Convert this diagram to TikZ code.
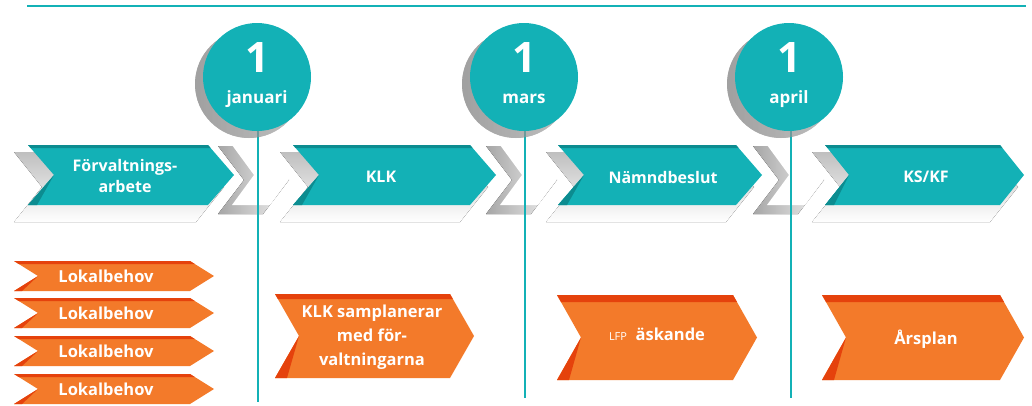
\documentclass[tikz,border=0pt]{standalone}
\usepackage{fontspec}
\setmainfont{Open Sans}
\definecolor{tealmain}{HTML}{13B1B6}
\definecolor{tealdark}{HTML}{0C8C90}
\definecolor{orngmain}{HTML}{F37A2A}
\definecolor{orngdark}{HTML}{E5420C}

% chevron: left, right, top, bottom, depth, fill, trim colour, band, wedge
\newcommand\chev[9]{%
  \pgfmathsetmacro\chmid{(#3+#4)/2}%
  \pgfmathsetmacro\chb{#5*#8/((#4-#3)/2)}%
  \fill[#6] (#1,#3) -- (#2,#3) -- ({#2+#5},\chmid) -- (#2,#4) -- (#1,#4) -- ({#1+#5},\chmid) -- cycle;
  \fill[#7] (#1,#3) -- (#2,#3) -- ({#2+\chb},{#3+#8}) -- ({#1+\chb},{#3+#8}) -- cycle;
  \fill[#7] ({#1+#5},\chmid) -- (#1,#4) -- ({#1+#9},#4) -- cycle;}

\tikzset{
  topline/.style={draw=tealmain,line width=2pt},
  vline/.style={draw=tealmain,line width=1.5pt},
  datecirc/.style={circle,fill=tealmain,minimum size=108pt,inner sep=0pt},
  daynum/.style={text=white,font=\bfseries\fontsize{42}{42}\selectfont},
  monthtext/.style={text=white,font=\bfseries\fontsize{17}{20}\selectfont},
  chevtext/.style={text=white,align=center,font=\bfseries\fontsize{16}{21}\selectfont},
  orngtext/.style={text=white,align=center,font=\bfseries\fontsize{16.5}{24}\selectfont},
}

\begin{document}
\begin{tikzpicture}[x=1pt,y=-1pt]
\useasboundingbox (0,0) rectangle (1032,405);

% top line
\coordinate (top-l) at (27,6);
\coordinate (top-r) at (1026,6);
\draw[topline] (top-l) -- (top-r);

% shadows of the band
\foreach \l/\r in {14/196,280/460,546/726,812/990}{
  \chev{\l}{\r}{152}{222}{28}{top color=gray!50,bottom color=white}{opacity=0}{1}{1}
}
% white links with their shadow
\foreach \l in {218,486,753}{
  \chev{\l}{\l+45}{146}{214}{26}{left color=gray!70,right color=gray!10}{opacity=0}{1}{1}
  \chev{\l+14}{\l+52}{145}{205}{22}{white}{opacity=0}{1}{1}
}
% teal band
\chev{28}{208}{145}{205}{26}{tealmain}{tealdark}{3}{9}
\chev{293}{470}{145}{205}{26}{tealmain}{tealdark}{3}{9}
\chev{558}{736}{145}{205}{26}{tealmain}{tealdark}{3}{9}
\chev{825}{1000}{145}{205}{24}{tealmain}{tealdark}{3}{9}

\node[chevtext] (forv) at (125,176) {Förvaltnings-\\arbete};
\node[chevtext] (klk) at (381,177) {KLK};
\node[chevtext] (namnd) at (663,177) {Nämndbeslut};
\node[chevtext] (ksf) at (926,177) {KS/KF};

% dates
\coordinate (jan-end) at (258,402);
\coordinate (mar-end) at (525,398);
\coordinate (apr-end) at (791,398);
\draw[vline] (258,120) -- (jan-end);
\draw[vline] (525,120) -- (mar-end);
\draw[vline] (791,120) -- (apr-end);

\foreach \x in {257,524,789}{
  \fill[left color=gray!55,right color=white,opacity=.45] (\x-8,84) circle (54pt);
}
\node[datecirc] (jan) at (257,77) {};
\node[datecirc] (mar) at (524,77) {};
\node[datecirc] (apr) at (789,77) {};
\node[daynum] (jan-d) at (257,58) {1};
\node[daynum] (mar-d) at (524,58) {1};
\node[daynum] (apr-d) at (789,58) {1};
\node[monthtext] (jan-m) at (257,99) {januari};
\node[monthtext] (mar-m) at (524,99) {mars};
\node[monthtext] (apr-m) at (789,99) {april};

% orange arrows
\foreach \t in {261,298,336,374}{
  \chev{14}{190}{\t}{\t+30}{24}{orngmain}{orngdark}{3}{8}
}
\node[orngtext] (lok1) at (106,276) {Lokalbehov};
\node[orngtext] (lok2) at (106,313) {Lokalbehov};
\node[orngtext] (lok3) at (106,351) {Lokalbehov};
\node[orngtext] (lok4) at (106,389) {Lokalbehov};

\chev{275}{450}{294}{378}{24}{orngmain}{orngdark}{5}{12}
\chev{557}{733}{295}{380}{24}{orngmain}{orngdark}{7}{12}
\chev{822}{1000}{295}{380}{24}{orngmain}{orngdark}{7}{12}
\node[orngtext] (samp) at (372,337) {KLK samplanerar\\med för-\\valtningarna};
\node[orngtext] (lfp) at (657,334) {{\fontsize{11}{12}\mdseries LFP}\ \ äskande};
\node[orngtext] (arsp) at (926,339) {Årsplan};
\end{tikzpicture}
\end{document}
